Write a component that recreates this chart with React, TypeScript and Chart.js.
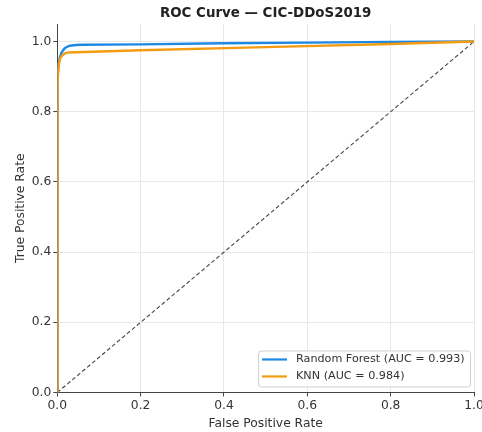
import React, { useEffect, useRef } from "react";
import { Chart, registerables } from "chart.js";

Chart.register(...registerables);

const rfFpr = [0, 0, 0.001, 0.003, 0.006, 0.01, 0.015, 0.02, 0.03, 0.045, 0.06, 0.2, 0.4, 0.6, 0.8, 1.0];
const rfTpr = [0, 0.86, 0.9, 0.935, 0.955, 0.968, 0.977, 0.983, 0.988, 0.99, 0.991, 0.992, 0.995, 0.997, 0.999, 1.0];
const knnFpr = [0, 0, 0.001, 0.003, 0.006, 0.01, 0.015, 0.02, 0.027, 0.2, 0.5, 0.8, 1.0];
const knnTpr = [0, 0.8, 0.88, 0.93, 0.95, 0.958, 0.964, 0.967, 0.969, 0.975, 0.984, 0.993, 1.0];
const diagX = [0, 1];
const diagY = [0, 1];
const tickValues = [0, 0.2, 0.4, 0.6, 0.8, 1.0];
const titleText = "ROC Curve — CIC-DDoS2019";
const rfLabel = "Random Forest (AUC = 0.993)";
const knnLabel = "KNN (AUC = 0.984)";
const rfColor = "#1E88E5";
const knnColor = "#F39C12";
const FONT = "'DejaVu Sans', sans-serif";

const toPts = (xs: number[], ys: number[]) => xs.map((x, i) => ({ x, y: ys[i] }));

const overlayPlugin = {
  id: "overlay",
  afterDraw(chart: any) {
    const { ctx, chartArea } = chart;
    ctx.save();
    // title
    ctx.fillStyle = "#222";
    ctx.font = `bold 13.4px ${FONT}`;
    ctx.textAlign = "center";
    ctx.textBaseline = "middle";
    ctx.fillText(titleText, (chartArea.left + chartArea.right) / 2, 14);
    // legend
    const bx = chartArea.right - 216;
    const by = chartArea.bottom - 42;
    const bw = 212;
    const bh = 36;
    ctx.beginPath();
    ctx.roundRect(bx + 0.5, by + 0.5, bw, bh, 3);
    ctx.fillStyle = "rgba(255,255,255,0.85)";
    ctx.fill();
    ctx.strokeStyle = "#d0d0d0";
    ctx.lineWidth = 1;
    ctx.stroke();
    const items = [
      { label: rfLabel, color: rfColor },
      { label: knnLabel, color: knnColor },
    ];
    ctx.font = `11.2px ${FONT}`;
    ctx.textAlign = "left";
    items.forEach((it, i) => {
      const yy = by + 9 + i * 17;
      ctx.beginPath();
      ctx.strokeStyle = it.color;
      ctx.lineWidth = 2.2;
      ctx.moveTo(bx + 4, yy);
      ctx.lineTo(bx + 29, yy);
      ctx.stroke();
      ctx.fillStyle = "#333";
      ctx.fillText(it.label, bx + 38, yy);
    });
    ctx.restore();
  },
};

export default function App() {
  const ref = useRef<HTMLCanvasElement | null>(null);
  useEffect(() => {
    if (!ref.current) return;
    const chart = new Chart(ref.current, {
      type: "scatter",
      data: {
        datasets: [
          {
            label: knnLabel,
            data: toPts(knnFpr, knnTpr),
            showLine: true,
            borderColor: knnColor,
            borderWidth: 2.4,
            pointRadius: 0,
            tension: 0,
            order: 0,
          },
          {
            label: rfLabel,
            data: toPts(rfFpr, rfTpr),
            showLine: true,
            borderColor: rfColor,
            borderWidth: 2.4,
            pointRadius: 0,
            tension: 0,
            order: 1,
          },
          {
            label: "diag",
            data: toPts(diagX, diagY),
            showLine: true,
            borderColor: "#444",
            borderWidth: 1.1,
            borderDash: [4, 2.5],
            pointRadius: 0,
            order: 2,
          },
        ],
      },
      options: {
        animation: false,
        responsive: true,
        maintainAspectRatio: false,
        layout: { padding: { top: 24, left: 13, right: 8, bottom: 1 } },
        plugins: { legend: { display: false }, title: { display: false }, tooltip: { enabled: false } },
        scales: {
          x: {
            type: "linear",
            min: 0,
            max: 1,
            afterBuildTicks: (s: any) => {
              s.ticks = tickValues.map((v) => ({ value: v }));
            },
            afterFit: (s: any) => {
              s.paddingRight = 0;
            },
            ticks: {
              color: "#333",
              font: { family: FONT, size: 12.3 },
              callback: (v: any) => Number(v).toFixed(1),
              maxRotation: 0,
              padding: 2,
            },
            grid: { color: "#e8e8e8", lineWidth: 1, tickLength: 4, tickColor: "#444" },
            border: { display: true, color: "#444", width: 1 },
            title: { display: true, text: "False Positive Rate", color: "#333", font: { family: FONT, size: 12.3 }, padding: { top: 1, bottom: 0 } },
          },
          y: {
            type: "linear",
            min: 0,
            max: 1.05,
            afterBuildTicks: (s: any) => {
              s.ticks = tickValues.map((v) => ({ value: v }));
            },
            ticks: {
              color: "#333",
              font: { family: FONT, size: 12.3 },
              callback: (v: any) => Number(v).toFixed(1),
              padding: 2,
            },
            grid: { color: "#e8e8e8", lineWidth: 1, tickLength: 4, tickColor: "#444" },
            border: { display: true, color: "#444", width: 1 },
            title: { display: true, text: "True Positive Rate", color: "#333", font: { family: FONT, size: 12.3 }, padding: { top: 0, bottom: 2 } },
          },
        },
      },
      plugins: [overlayPlugin],
    } as any);
    return () => chart.destroy();
  }, []);
  return (
    <div style={{ position: "fixed", left: 0, top: 0, width: 482, height: 432, background: "#fff" }}>
      <canvas ref={ref} />
    </div>
  );
}
